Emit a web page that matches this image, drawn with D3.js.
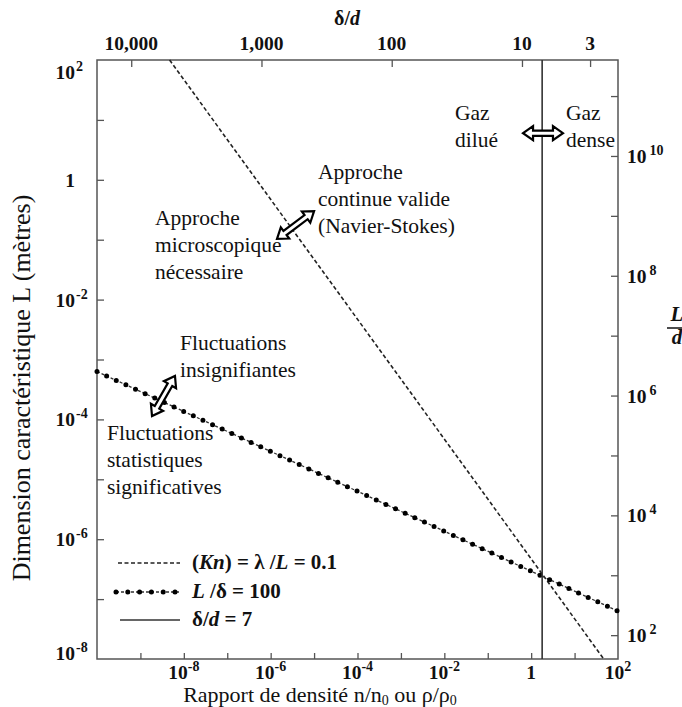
<!DOCTYPE html>
<html>
<head>
<meta charset="utf-8">
<script src="https://cdn.jsdelivr.net/npm/d3@7/dist/d3.min.js"></script>
<style>
body { margin: 0; background: #fff; }
svg text { font-family: "Liberation Serif", "Times New Roman", serif; fill: #111; }
</style>
</head>
<body>
<div id="chart"></div>
<script>
// axis ranges
var xDomain = [1e-10, 1e2];          // n/n0
var yDomain = [1e-8, 1e2];           // L (m)
var xTickLabels = [-8, -6, -4, -2, 0, 2];      // exponents of 10
var yTickLabels = [2, 0, -2, -4, -6, -8];
var rightTickLabels = [10, 8, 6, 4, 2];        // L/d exponents
var topTickLabels = [10000, 1000, 100, 10, 3]; // delta/d

// (Kn) = lambda/L = 0.1
var knDensity = [4.7e-9, 1e-4, 47];
var knLength = [100, 4.7e-3, 1e-8];
// L/delta = 100
var spacingDensity = [1e-10, 1e-4, 100];
var spacingLength = [6.3e-4, 6.3e-6, 6.3e-8];
// delta/d = 7
var denseLimit = 7;

var molDiameter = 2.5e-10;   // d, links left axis to L/d
var spacingAtN0 = 8.5;       // delta/d at n/n0 = 1

var W = 682, H = 707;
var margin = {left: 97, top: 60, right: 64, bottom: 48};
var width = W - margin.left - margin.right,
    height = H - margin.top - margin.bottom;

var svg = d3.select("#chart").append("svg")
    .attr("width", W)
    .attr("height", H);

var g = svg.append("g")
    .attr("transform", "translate(" + margin.left + "," + margin.top + ")");

var x = d3.scaleLog().domain(xDomain).range([0, width]);
var y = d3.scaleLog().domain(yDomain).range([height, 0]);
var yRight = d3.scaleLog()
    .domain(yDomain.map(function(v) { return v / molDiameter; }))
    .range([height, 0]);
var xTop = d3.scaleLog()
    .domain(xDomain.map(function(n) { return spacingAtN0 * Math.pow(n, -1 / 3); }))
    .range([0, width]);

function decades(a, b) {
    var out = [];
    for (var e = a; e <= b; e++) out.push(Math.pow(10, e));
    return out;
}
function tickStyle(sel) {
    sel.select(".domain").remove();
    sel.selectAll("line").attr("stroke", "#555").attr("stroke-width", 1.3);
}

// ticks, all pointing inward
g.append("g").attr("transform", "translate(0," + height + ")")
    .call(d3.axisBottom(x).tickValues(decades(-9, 1)).tickSize(-6).tickFormat(""))
    .call(tickStyle);
g.append("g")
    .call(d3.axisLeft(y).tickValues(decades(-7, 1)).tickSize(-7).tickFormat(""))
    .call(tickStyle);
g.append("g").attr("transform", "translate(" + width + ",0)")
    .call(d3.axisRight(yRight).tickValues(decades(2, 11)).tickSize(-7).tickFormat(""))
    .call(tickStyle);
g.append("g")
    .call(d3.axisTop(xTop).tickValues(topTickLabels).tickSize(-7).tickFormat(""))
    .call(tickStyle);

// frame
g.append("rect")
    .attr("width", width).attr("height", height)
    .attr("fill", "none").attr("stroke", "#555").attr("stroke-width", 1.5);

var tickFont = 19.5, supFont = 14;

// bottom tick labels
xTickLabels.forEach(function(e) {
    var t = g.append("text")
        .attr("x", x(Math.pow(10, e)))
        .attr("y", height + 20)
        .attr("text-anchor", "middle")
        .attr("font-weight", "bold")
        .attr("font-size", tickFont);
    if (e === 0) { t.text("1"); return; }
    t.append("tspan").text("10");
    t.append("tspan").attr("dy", -8).attr("font-size", supFont).text(e);
});

// left tick labels
yTickLabels.forEach(function(e) {
    var ty = y(Math.pow(10, e)) + 7;
    if (e === 2) ty += 12;
    if (e === -8) ty -= 6;
    g.append("text")
        .attr("x", -22).attr("y", ty)
        .attr("text-anchor", "end")
        .attr("font-weight", "bold")
        .attr("font-size", tickFont)
        .text(e === 0 ? "1" : "10");
    if (e !== 0) {
        g.append("text")
            .attr("x", -21).attr("y", ty - 8)
            .attr("font-weight", "bold")
            .attr("font-size", supFont)
            .text(e);
    }
});

// right tick labels (L/d)
rightTickLabels.forEach(function(e) {
    var t = g.append("text")
        .attr("x", width + 9)
        .attr("y", yRight(Math.pow(10, e)) + 7)
        .attr("font-weight", "bold")
        .attr("font-size", tickFont);
    t.append("tspan").text("10");
    t.append("tspan").attr("dx", 3).attr("dy", -8).attr("font-size", supFont).text(e);
});

// top tick labels (delta/d)
topTickLabels.forEach(function(v) {
    g.append("text")
        .attr("x", xTop(v)).attr("y", -10)
        .attr("text-anchor", "middle")
        .attr("font-weight", "bold")
        .attr("font-size", tickFont)
        .text(d3.format(",")(v));
});

// axis titles
var topTitle = g.append("text")
    .attr("x", 250).attr("y", -35)
    .attr("text-anchor", "middle")
    .attr("font-weight", "bold")
    .attr("font-size", 20);
topTitle.append("tspan").text("δ/");
topTitle.append("tspan").attr("font-style", "italic").text("d");

svg.append("text")
    .attr("transform", "rotate(-90)")
    .attr("x", -388).attr("y", 30)
    .attr("text-anchor", "middle")
    .attr("font-size", 26)
    .text("Dimension caractéristique L (mètres)");

var xTitle = svg.append("text")
    .attr("x", 320).attr("y", 702)
    .attr("text-anchor", "middle")
    .attr("font-size", 22);
xTitle.append("tspan").text("Rapport de densité n/n");
xTitle.append("tspan").attr("dy", 3).attr("font-size", 14).text("0");
xTitle.append("tspan").attr("dy", -3).text(" ou ρ/ρ");
xTitle.append("tspan").attr("dy", 3).attr("font-size", 14).text("0");

// right axis title L/d (clipped by the page edge, as in the figure)
svg.append("text").attr("x", 677).attr("y", 321).attr("text-anchor", "middle")
    .attr("font-size", 21).attr("font-style", "italic").attr("font-weight", "bold").text("L");
svg.append("line").attr("x1", 667).attr("x2", 690).attr("y1", 328).attr("y2", 328)
    .attr("stroke", "#111").attr("stroke-width", 1.5);
svg.append("text").attr("x", 677).attr("y", 344).attr("text-anchor", "middle")
    .attr("font-size", 21).attr("font-style", "italic").attr("font-weight", "bold").text("d");

// lines
var line = d3.line()
    .x(function(d) { return x(d[0]); })
    .y(function(d) { return y(d[1]); });

var knPts = d3.zip(knDensity, knLength);
var spPts = d3.zip(spacingDensity, spacingLength);

g.append("path").datum(knPts).attr("d", line)
    .attr("fill", "none").attr("stroke", "#222")
    .attr("stroke-width", 1.6).attr("stroke-dasharray", "4,2.5");

g.append("path").datum(spPts).attr("d", line)
    .attr("fill", "none").attr("stroke", "#333")
    .attr("stroke-width", 1.3).attr("stroke-dasharray", "3,2");
g.append("path").datum(spPts).attr("d", line)
    .attr("fill", "none").attr("stroke", "#000")
    .attr("stroke-width", 5).attr("stroke-linecap", "round")
    .attr("stroke-dasharray", "0,10.6");

var denseX = xTop(denseLimit);
g.append("line")
    .attr("x1", denseX).attr("x2", denseX)
    .attr("y1", 0).attr("y2", height)
    .attr("stroke", "#333").attr("stroke-width", 1.6);

// hollow double arrows
function doubleArrow(x1, y1, x2, y2) {
    var len = Math.hypot(x2 - x1, y2 - y1),
        ang = Math.atan2(y2 - y1, x2 - x1) * 180 / Math.PI,
        h = 10, hw = 7, sw = 2.6;
    var p = d3.path();
    p.moveTo(0, 0); p.lineTo(h, -hw); p.lineTo(h, -sw);
    p.lineTo(len - h, -sw); p.lineTo(len - h, -hw); p.lineTo(len, 0);
    p.lineTo(len - h, hw); p.lineTo(len - h, sw); p.lineTo(h, sw); p.lineTo(h, hw);
    p.closePath();
    g.append("path").attr("d", p.toString())
        .attr("transform", "translate(" + x1 + "," + y1 + ") rotate(" + ang + ")")
        .attr("fill", "#fff").attr("stroke", "#000")
        .attr("stroke-width", 2.2).attr("stroke-linejoin", "miter");
}
doubleArrow(x(1.4e-6), y(0.103), x(1e-5), y(0.30));
doubleArrow(x(1.85e-9), y(1.14e-4), x(6.25e-9), y(5.3e-4));
doubleArrow(x(0.65), y(6.0), x(5.4), y(6.0));

// annotations
function note(px, py, lines) {
    var t = svg.append("text").attr("font-size", 21.5);
    lines.forEach(function(s, i) {
        t.append("tspan").attr("x", px).attr("y", py + i * 27).text(s);
    });
}
note(318, 179, ["Approche", "continue  valide", "(Navier-Stokes)"]);
note(155, 225, ["Approche", "microscopique", "nécessaire"]);
note(180, 350, ["Fluctuations", "insignifiantes"]);
note(107, 440, ["Fluctuations", "statistiques", "significatives"]);
note(455, 120, ["Gaz", "dilué"]);
note(566, 120, ["Gaz", "dense"]);

// legend
var legend = svg.append("g");
var rows = [
    {y: 563, kind: "kn"},
    {y: 592, kind: "sp"},
    {y: 620, kind: "solid"}
];
rows.forEach(function(r) {
    if (r.kind === "kn") {
        legend.append("line").attr("x1", 118).attr("x2", 180).attr("y1", r.y).attr("y2", r.y)
            .attr("stroke", "#222").attr("stroke-width", 1.5).attr("stroke-dasharray", "4,2.5");
    } else if (r.kind === "sp") {
        legend.append("line").attr("x1", 116).attr("x2", 180).attr("y1", r.y).attr("y2", r.y)
            .attr("stroke", "#333").attr("stroke-width", 1.3).attr("stroke-dasharray", "3,2");
        legend.append("line").attr("x1", 116).attr("x2", 176).attr("y1", r.y).attr("y2", r.y)
            .attr("stroke", "#000").attr("stroke-width", 5).attr("stroke-linecap", "round")
            .attr("stroke-dasharray", "0,11.8");
    } else {
        legend.append("line").attr("x1", 120).attr("x2", 180).attr("y1", r.y).attr("y2", r.y)
            .attr("stroke", "#333").attr("stroke-width", 1.5);
    }
});
var l1 = legend.append("text").attr("x", 192).attr("y", 569)
    .attr("font-size", 21).attr("font-weight", "bold");
l1.append("tspan").text("(");
l1.append("tspan").attr("font-style", "italic").text("Kn");
l1.append("tspan").text(") = λ /");
l1.append("tspan").attr("font-style", "italic").text("L");
l1.append("tspan").text(" = 0.1");
var l2 = legend.append("text").attr("x", 192).attr("y", 598)
    .attr("font-size", 21).attr("font-weight", "bold");
l2.append("tspan").attr("font-style", "italic").text("L");
l2.append("tspan").text(" /δ  =  100");
var l3 = legend.append("text").attr("x", 192).attr("y", 626)
    .attr("font-size", 21).attr("font-weight", "bold");
l3.append("tspan").text("δ/");
l3.append("tspan").attr("font-style", "italic").text("d");
l3.append("tspan").text(" = 7");
</script>
</body>
</html>
